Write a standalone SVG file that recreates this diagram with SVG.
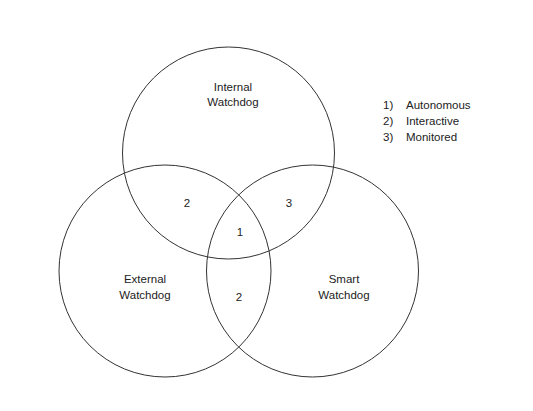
<svg xmlns="http://www.w3.org/2000/svg" width="533" height="411" viewBox="0 0 533 411">
<style>
.c{fill:none;stroke:#333;stroke-width:1}
text{font-family:"Liberation Sans",Arial,sans-serif;font-size:11.5px;fill:#222}
.m{text-anchor:middle}
</style>
<rect width="533" height="411" fill="#fff"/>
<g id="internal"><circle class="c" cx="228.5" cy="153" r="106"/><text class="m" x="233" y="91">Internal</text><text class="m" x="233" y="106">Watchdog</text></g>
<g id="external"><circle class="c" cx="165" cy="271" r="106"/><text class="m" x="145" y="283">External</text><text class="m" x="145" y="299">Watchdog</text></g>
<g id="smart"><circle class="c" cx="312.5" cy="271" r="106"/><text class="m" x="344" y="283">Smart</text><text class="m" x="344" y="299">Watchdog</text></g>
<g id="regions">
<text class="m" x="187" y="207">2</text>
<text class="m" x="289" y="207">3</text>
<text class="m" x="240" y="236">1</text>
<text class="m" x="239" y="301">2</text>
</g>
<g id="legend">
<text x="383" y="109">1)</text><text x="406" y="109">Autonomous</text>
<text x="383" y="125">2)</text><text x="406" y="125">Interactive</text>
<text x="383" y="141">3)</text><text x="406" y="141">Monitored</text>
</g>
<g id="connectors"></g>
</svg>
